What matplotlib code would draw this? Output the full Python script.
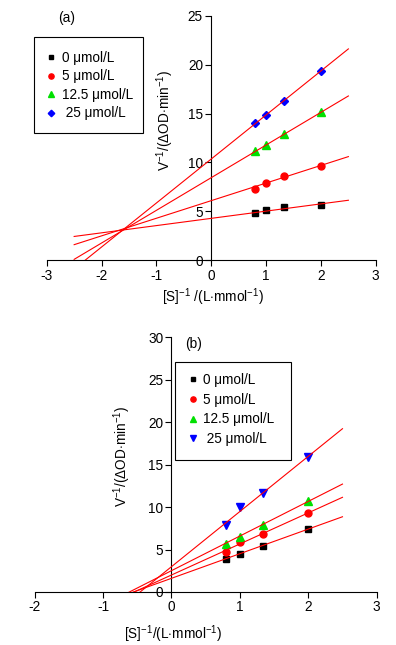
import numpy as np
import matplotlib
matplotlib.use('Agg')
import matplotlib.pyplot as plt
from matplotlib.patches import Rectangle

plt.rcParams['font.family'] = ['Liberation Sans', 'DejaVu Sans']
plt.rcParams['mathtext.fontset'] = 'custom'
plt.rcParams['mathtext.rm'] = 'Liberation Sans'
plt.rcParams['mathtext.it'] = 'Liberation Sans:italic'
plt.rcParams['mathtext.bf'] = 'Liberation Sans:bold'
plt.rcParams['axes.unicode_minus'] = False

# 1/[S] (L/mmol)
inv_s = [0.8, 1.0, 1.333, 2.0]
conc_labels = ['0 \u03bcmol/L', '5 \u03bcmol/L', '12.5 \u03bcmol/L', ' 25 \u03bcmol/L']

# panel (a)
a_0 = [4.8, 5.15, 5.4, 5.7]
a_5 = [7.3, 7.9, 8.6, 9.6]
a_12 = [11.2, 11.8, 12.9, 15.2]
a_25 = [14.0, 14.9, 16.3, 19.4]
a_slope = [0.74, 1.8, 3.34, 4.5]
a_icpt = [4.29, 6.1, 8.45, 10.36]

# panel (b)
b_0 = [3.88, 4.47, 5.45, 7.41]
b_5 = [4.67, 5.84, 6.78, 9.25]
b_12 = [5.65, 6.43, 7.84, 10.7]
b_25 = [7.88, 10.04, 11.65, 15.9]
b_slope = [2.9, 3.66, 4.08, 6.5]
b_icpt = [1.61, 2.0, 2.51, 2.98]

line_x = np.array([-2.5, 2.5])
colors = ['black', '#ff0000', '#00e000', '#0000ff']
W, H = 396.0, 645.0


def draw_panel(ax, series, slopes, icpts, markers, msizes, xlim, ylim):
    for k in range(4):
        ax.plot(line_x, icpts[k] + slopes[k] * line_x, color='#ff0000', lw=0.8, zorder=3)
        ax.plot(inv_s, series[k], ls='none', marker=markers[k], ms=msizes[k],
                color=colors[k], mec=colors[k], label=conc_labels[k], zorder=2)
    ax.set_xlim(*xlim)
    ax.set_ylim(*ylim)
    ax.spines['left'].set_position(('data', 0))
    ax.spines['top'].set_visible(False)
    ax.spines['right'].set_visible(False)
    for s in ('left', 'bottom'):
        ax.spines[s].set_linewidth(0.8)
    ax.tick_params(direction='out', length=4, width=0.8, labelsize=9.8, pad=2)


def boxed_legend(fig, ax, box, anchor, tpad, lspace):
    # box = (left, top, right, bottom) in pixels from the top-left corner
    x0, y0, x1, y1 = box
    fig.add_artist(Rectangle((x0 / W, 1 - y1 / H), (x1 - x0) / W, (y1 - y0) / H,
                             transform=fig.transFigure, fill=False, lw=0.8, ec='black'))
    ax.legend(loc='upper left', bbox_to_anchor=(anchor[0] / W, 1 - anchor[1] / H),
              bbox_transform=fig.transFigure, borderaxespad=0, borderpad=0,
              fontsize=9.8, frameon=False, labelspacing=lspace, handlelength=0.6,
              handletextpad=tpad, markerscale=0.75)


fig = plt.figure(figsize=(3.96, 6.45), dpi=100)

# (a)
ax1 = fig.add_axes([0.118, 0.5964, 0.831, 0.3792])
draw_panel(ax1, [a_0, a_5, a_12, a_25], a_slope, a_icpt,
           ['s', 'o', '^', 'D'], [4.2, 5.0, 5.4, 4.4], (-3, 3), (0, 25))
ax1.set_xticks(range(-3, 4))
ax1.set_yticks(range(0, 26, 5))
ax1.set_xlabel('[S]$^{-1}$ /(L$\\cdot$mmol$^{-1}$)', fontsize=9.8)
ax1.xaxis.set_label_coords(0.505, -0.105)
ax1.set_ylabel('V$^{-1}$/($\\Delta$OD$\\cdot$min$^{-1}$)', fontsize=9.8)
ax1.yaxis.set_label_coords(0.392, 0.574)
boxed_legend(fig, ax1, (34, 37, 143, 133), (46.6, 51), 0.55, 0.33)
fig.text(0.169, 0.972, '(a)', fontsize=9.8, ha='center', va='center')

# (b)
ax2 = fig.add_axes([0.0876, 0.0822, 0.8636, 0.3949])
draw_panel(ax2, [b_0, b_5, b_12, b_25], b_slope, b_icpt,
           ['s', 'o', '^', 'v'], [4.0, 5.0, 5.4, 5.4], (-2, 3), (0, 30))
ax2.set_xticks(range(-2, 4))
ax2.set_yticks(range(0, 31, 5))
ax2.set_xlabel('[S]$^{-1}$/(L$\\cdot$mmol$^{-1}$)', fontsize=9.8)
ax2.xaxis.set_label_coords(0.404, -0.122)
ax2.set_ylabel('V$^{-1}$/($\\Delta$OD$\\cdot$min$^{-1}$)', fontsize=9.8)
ax2.yaxis.set_label_coords(0.288, 0.532)
boxed_legend(fig, ax2, (175, 362, 291, 460), (188.6, 373), 0.48, 0.42)
fig.text(0.49, 0.4667, '(b)', fontsize=9.8, ha='center', va='center')

fig.savefig('out.png', dpi=100)
